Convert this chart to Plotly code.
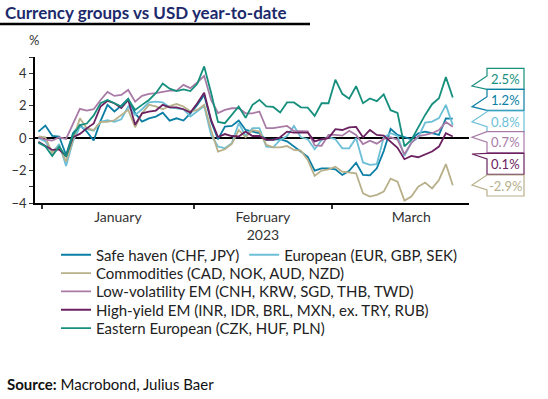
import numpy as np
import pandas as pd
import plotly.graph_objects as go

# ---------------- data ----------------
dates = pd.bdate_range("2022-12-30", "2023-03-24")  # business days, 61 points

safe_haven = [0.4, 0.77, 0.14, 0.1, -1.04, 0.3, 0.8, 0.4, -0.15, 1.06, 2.05, 1.64, 2.0, 2.42,
              1.53, 1.02, 1.22, 1.33, 1.57, 1.08, 1.22, 1.08, 1.53, 2.05, 2.66, 1.02, -0.07,
              0.71, 0.75, 1.08, 0.5, 0.4, 0.3, -0.11, -0.11, -0.07, -0.2, -0.52, -0.8, -1.15,
              -2.0, -1.86, -1.86, -1.93, -2.27, -2.02, -1.52, -2.27, -2.3, -1.86, -0.8, 0.57,
              0.2, 0.05, -0.07, 0.3, 0.4, 0.3, 0.2, 1.22, 1.2]
european = [0.0, -0.2, -0.9, -0.36, -1.72, -0.2, 0.7, 0.55, 0.46, 1.0, 1.1, 1.0, 1.16, 1.95,
            1.43, 1.78, 2.2, 2.25, 2.2, 1.9, 1.84, 1.78, 1.33, 1.64, 1.98, 0.2, -0.52,
            -0.62, -0.32, 0.92, 0.13, 0.61, 0.61, -0.52, -0.57, -0.11, 0.13, 0.75, 0.05, -0.07,
            -0.69, -0.11, 0.05, -0.07, -0.63, -0.63, 0.0, -1.5, -1.65, -1.6, 0.05, 0.3,
            0.14, -1.1, -0.28, 0.05, 0.96, 1.02, 1.23, 2.05, 0.8]
commodities = [0.1, 0.05, -0.93, -0.5, -1.45, -0.1, 1.22, 0.6, 0.5, 1.0, 1.0, 1.1, 1.43, 1.74,
               0.67, 1.53, 2.05, 1.95, 1.78, 1.98, 2.1, 1.95, 1.64, 1.74, 2.05, 0.5, -0.83,
               -0.69, -0.36, 0.5, 0.05, 0.5, 0.4, -0.42, -0.57, -0.57, -0.49, -0.73, -0.77, -1.34,
               -2.33, -2.0, -1.92, -1.76, -2.07, -2.13, -2.17, -3.4, -3.6, -3.5, -3.3, -2.5,
               -2.68, -3.85, -3.6, -2.99, -2.74, -3.1, -2.58, -1.6, -2.9]
low_vol_em = [0.05, -0.1, -0.15, 0.05, -0.05, 0.9, 1.8, 1.7, 1.78, 2.35, 2.85, 2.6, 2.66, 2.97,
              2.25, 2.6, 2.73, 2.77, 2.87, 2.93, 2.93, 3.28, 3.08, 3.43, 3.84, 2.36, 1.55,
              1.74, 1.84, 1.84, 1.53, 1.53, 1.64, 0.61, 0.61, 0.67, 0.75, 0.44, 0.44, 0.42,
              -0.45, -0.47, 0.2, 0.2, 0.15, 0.45, 0.2, -0.37, -0.16, -0.34, -0.05, 0.05,
              -0.1, -1.0, -0.3, 0.13, 0.2, 0.3, 0.5, 1.0, 0.7]
high_yield_em = [-0.22, -0.5, -0.73, -0.7, -1.1, 0.05, 0.26, 0.6, 0.9, 1.95, 2.3, 2.15, 1.85, 2.35,
                 0.82, 1.53, 1.64, 1.7, 2.05, 1.9, 1.9, 1.78, 1.57, 2.15, 2.8, 1.12, 0.07,
                 0.25, 0.13, 0.1, 0.4, 0.13, 0.13, -0.11, -0.11, 0.05, 0.4, 0.34, 0.34, 0.34,
                 -0.2, -0.07, 0.0, 0.55, 0.5, 0.66, 0.69, 0.05, 0.5, 0.2, 0.16, -0.2,
                 -0.6, -1.3, -1.1, -1.18, -0.98, -0.83, -0.52, 0.3, 0.1]
eastern_eu = [-0.28, -0.52, -1.1, -0.52, -1.15, 0.2, 0.8, 0.9, 1.4, 2.15, 2.35, 2.15, 1.95, 2.4,
              1.74, 2.05, 2.35, 2.77, 3.37, 3.05, 2.9, 3.0, 2.9, 3.35, 4.42, 2.8, 1.0,
              0.92, 1.43, 1.95, 1.25, 2.05, 2.36, 1.95, 1.92, 1.58, 2.2, 2.2, 1.9, 1.88,
              1.37, 2.15, 2.15, 3.6, 2.73, 2.43, 3.2, 2.15, 2.44, 2.28, 2.7, 1.72,
              1.55, -0.5, -0.11, 0.71, 1.43, 2.09, 2.46, 3.76, 2.5]

series_names = ["Safe haven (CHF, JPY)", "European (EUR, GBP, SEK)",
                "Commodities (CAD, NOK, AUD, NZD)", "Low-volatility EM (CNH, KRW, SGD, THB, TWD)",
                "High-yield EM (INR, IDR, BRL, MXN, ex. TRY, RUB)", "Eastern European (CZK, HUF, PLN)"]
series_values = [safe_haven, european, commodities, low_vol_em, high_yield_em, eastern_eu]
series_colors = ["#0a7ea4", "#6cbfd7", "#b8b08a", "#a87ba7", "#6b2160", "#16907d"]

y_tick_vals = [-4, -2, 0, 2, 4]
year_label = "2023"

# ---------------- figure ----------------
FONT = "Lato"
W, H = 548, 399
L, R, T, B = 35, 79, 57, 196
pw, ph = W - L - R, H - T - B


def px_x(p):
    return (p - L) / pw


def px_y(p):
    return (T + ph - p) / ph


x = list(range(len(dates)))
legend_of_trace = ["legend", "legend", "legend2", "legend3", "legend4", "legend5"]

fig = go.Figure()
for name, vals, col, lg in zip(series_names, series_values, series_colors, legend_of_trace):
    fig.add_trace(go.Scatter(x=x, y=vals, mode="lines", name=name, legend=lg,
                             line=dict(color=col, width=1.8),
                             customdata=[d.strftime("%Y-%m-%d") for d in dates],
                             hovertemplate="%{customdata}: %{y:.1f}%<extra></extra>"))

# month boundaries and centres (business-day positions)
months = pd.Series(dates.to_period("M").astype(str))
full_cal = pd.Series(pd.bdate_range("2023-01-01", "2023-03-31").to_period("M").astype(str))
bounds, centres, labels = [], [], []
for m in ["2023-01", "2023-02", "2023-03"]:
    first = int(np.where(months == m)[0][0])
    nb = int((full_cal == m).sum())
    start = first - 0.5
    bounds.append(start)
    centres.append(start + nb / 2)
    labels.append(pd.Period(m).strftime("%B"))
labels[1] = labels[1] + "<br>" + year_label

x_range = [-0.5, 62.35]

leg_font = dict(family=FONT, size=15, color="#222222")
row_centres = [255, 273.3, 291.7, 310, 328.3]
LEG_X = 56
legend_common = dict(xanchor="left", yanchor="middle", font=leg_font, itemwidth=30,
                     bgcolor="rgba(0,0,0,0)", borderwidth=0, tracegroupgap=0,
                     x=px_x(LEG_X))

fig.update_layout(
    width=W, height=H,
    margin=dict(l=L, r=R, t=T, b=B),
    paper_bgcolor="white", plot_bgcolor="white",
    font=dict(family=FONT, size=13, color="#333333"),
    showlegend=True,
    legend=dict(orientation="h", y=px_y(row_centres[0]), **legend_common),
    legend2=dict(orientation="v", y=px_y(row_centres[1]), **legend_common),
    legend3=dict(orientation="v", y=px_y(row_centres[2]), **legend_common),
    legend4=dict(orientation="v", y=px_y(row_centres[3]), **legend_common),
    legend5=dict(orientation="v", y=px_y(row_centres[4]), **legend_common),
    xaxis=dict(range=x_range, showgrid=False, zeroline=False,
               showline=True, linecolor="black", linewidth=1.5,
               tickmode="array", tickvals=centres, ticktext=labels, ticks="",
               tickfont=dict(family=FONT, size=14, color="#333333"),
               minor=dict(tickmode="array", tickvals=bounds, ticks="outside",
                          ticklen=4, tickwidth=1.5, tickcolor="#333333")),
    yaxis=dict(range=[-4, 5], showgrid=False,
               zeroline=True, zerolinecolor="black", zerolinewidth=1.5,
               showline=True, linecolor="black", linewidth=1.5,
               tickmode="array", tickvals=y_tick_vals, ticks="outside",
               ticklen=4, tickwidth=1, tickcolor="#333333",
               tickfont=dict(family=FONT, size=13, color="#333333"),
               minor=dict(dtick=1, tick0=-4, ticks="outside", ticklen=4,
                          tickwidth=1, tickcolor="#333333")),
    title=dict(text="<b>Currency groups vs USD year-to-date</b>",
               x=5 / W, y=1 - 13 / H, xanchor="left", yanchor="middle",
               font=dict(family=FONT, size=17, color="#1c2a6c")),
)

# rule under the title
fig.add_shape(type="line", xref="paper", yref="paper",
              x0=px_x(0), x1=px_x(310), y0=px_y(24), y1=px_y(24),
              line=dict(color="black", width=2.5))

# "%" unit label
fig.add_annotation(text="%", xref="paper", yref="paper", x=px_x(34), y=px_y(40),
                   showarrow=False, font=dict(family=FONT, size=13, color="#333333"),
                   xanchor="center", yanchor="middle")

# last-value callouts
box_tops = [68.3, 89.3, 111.0, 131.7, 153.3, 175.0]
box_h = 21
tip_ys = [86, 106.7, 121.7, 137.3, 154, 185]
order = [5, 0, 1, 3, 4, 2]
bx0, bx1, tipx = 487, 524, 472
for top, tip, k in zip(box_tops, tip_ys, order):
    col = series_colors[k]
    bot = top + box_h
    path = (f"M {px_x(bx0)},{px_y(top)} L {px_x(bx1)},{px_y(top)} L {px_x(bx1)},{px_y(bot)} "
            f"L {px_x(bx0)},{px_y(bot)} L {px_x(bx0)},{px_y(min(bot, tip + 5))} "
            f"L {px_x(tipx)},{px_y(tip)} L {px_x(bx0)},{px_y(max(top, tip - 10))} Z")
    fig.add_shape(type="path", xref="paper", yref="paper", path=path,
                  line=dict(color=col, width=1.2), fillcolor="white")
    fig.add_annotation(text=f"{series_values[k][-1]:.1f}%", xref="paper", yref="paper",
                       x=px_x((bx0 + bx1) / 2), y=px_y(top + box_h / 2),
                       showarrow=False, font=dict(family=FONT, size=13, color=col),
                       xanchor="center", yanchor="middle")

# source line
fig.add_annotation(text="<b>Source:</b> Macrobond, Julius Baer", xref="paper", yref="paper",
                   x=px_x(5), y=px_y(384), xanchor="left", yanchor="middle",
                   showarrow=False, font=dict(family=FONT, size=15, color="#111111"))

fig.write_html("out.html", config={"displayModeBar": False},
               post_script="document.body.style.margin='0px';")
